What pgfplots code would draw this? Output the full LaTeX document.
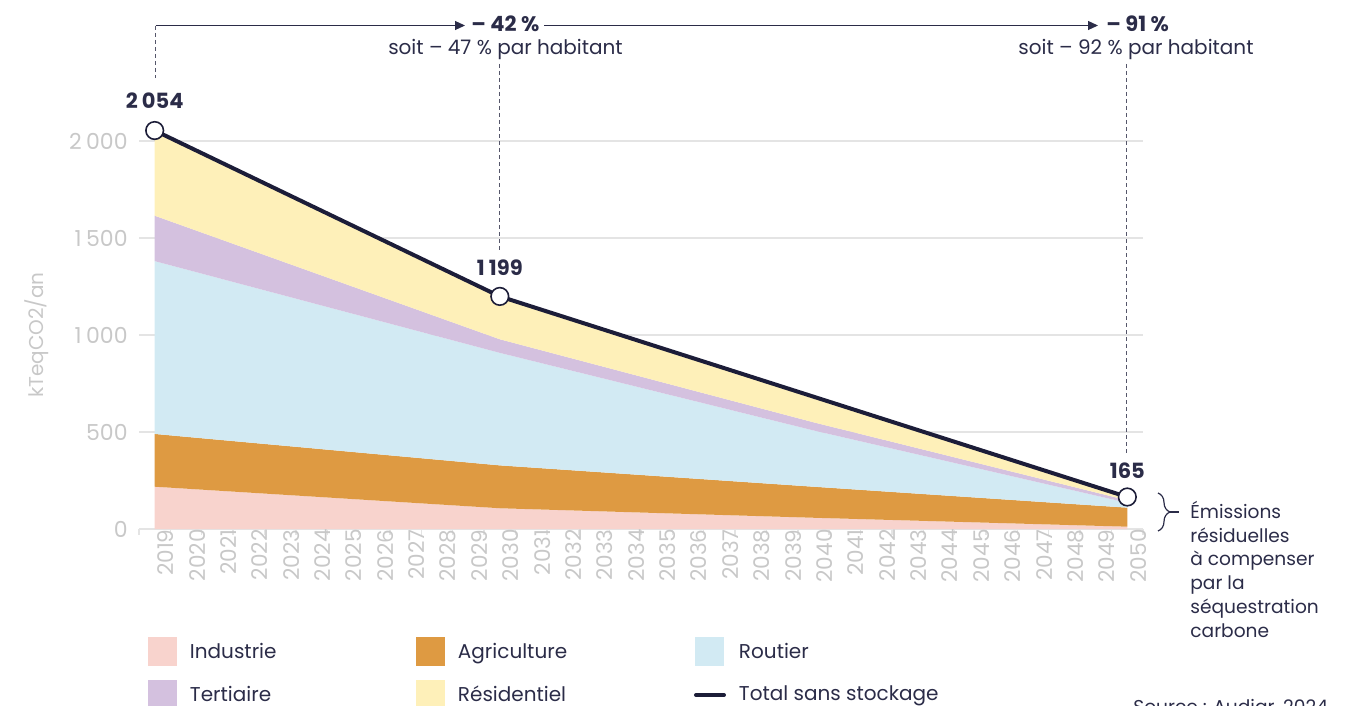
\documentclass[border=0pt]{standalone}
\usepackage{fontspec}
\setmainfont{Poppins}
\usepackage{pgfplots}
\pgfplotsset{compat=1.18}
\usepgfplotslibrary{fillbetween}
\usetikzlibrary{arrows.meta,decorations.pathreplacing}
\definecolor{cInd}{HTML}{F8D3CD}
\definecolor{cAgr}{HTML}{DE9A42}
\definecolor{cRou}{HTML}{D2EAF3}
\definecolor{cTer}{HTML}{D4C1DF}
\definecolor{cRes}{HTML}{FEF0B9}
\definecolor{cLine}{HTML}{1C1D38}
\definecolor{cText}{HTML}{2B2C48}
\definecolor{cTick}{HTML}{C8C8C8}
\definecolor{cGrid}{HTML}{E4E4E4}
\definecolor{cDash}{HTML}{55566A}
\pgfplotsset{swatch/.style={legend image code/.code={\fill[#1] (0pt,-7.25pt) rectangle (14.5pt,7.25pt);}}}
\newcommand{\ts}{\hspace{0.2em}}
\begin{document}
\begin{tikzpicture}
\begin{axis}[
  at={(69.5pt,-264.5pt)}, anchor=south west,
  scale only axis, width=502pt, height=203.7pt,
  xmin=2018.5, xmax=2050.5, ymin=0, ymax=2100,
  enlargelimits=false, clip=false,
  axis x line*=bottom, axis y line*=left,
  x axis line style={draw=cGrid, line width=0.7pt},
  y axis line style={draw=none},
  xtick={2019,...,2050},
  minor xtick={2018.5,2019.5,...,2050.5},
  tick align=outside,
  major tick length=0pt,
  minor tick length=3pt,
  minor tick style={draw=cGrid, line width=0.7pt},
  xticklabel style={rotate=90, anchor=east, inner sep=0pt, yshift=-5.5pt, font=\fontsize{10.8}{12}\selectfont, text=cTick, /pgf/number format/1000 sep=, /pgf/number format/assume math mode=true},
  ytick={0,500,1000,1500,2000},
  yticklabels={0,500,1\ts000,1\ts500,2\ts000},
  yticklabel style={anchor=east, inner sep=0pt, xshift=-5.5pt, font=\fontsize{11}{12}\selectfont, text=cTick},
  ymajorgrids, grid style={draw=cGrid, line width=0.7pt},
  ylabel={kTeqCO2/an},
  ylabel style={at={(axis description cs:-0.1016,0.476)}, anchor=center, rotate=0, font=\fontsize{10}{12}\selectfont, text=cTick},
  legend columns=3,
  legend cell align=left,
  legend style={at={(axis description cs:0.00896,-0.2663)}, anchor=north west, draw=none, fill=none, inner sep=0pt, outer sep=0pt, font=\fontsize{10}{12}\selectfont, text=cText, row sep=7pt, nodes={inner sep=0pt}, /tikz/every odd column/.append style={column sep=6.5pt}},
]
\addplot[draw=none, name path=c0, forget plot] coordinates {(2019,0) (2050,0)};
\addplot[draw=none, name path=c1, forget plot] coordinates {(2019,218) (2030,107) (2040,58) (2050,12)};
\addplot[draw=none, name path=c2, forget plot] coordinates {(2019,490) (2030,328) (2040,218) (2050,110)};
\addplot[draw=none, name path=c3, forget plot] coordinates {(2019,1381) (2030,908) (2040,508) (2050,135)};
\addplot[draw=none, name path=c4, forget plot] coordinates {(2019,1615) (2030,978) (2040,550) (2050,148)};
\addplot[draw=none, name path=c5, forget plot] coordinates {(2019,2054) (2030,1199) (2040,682) (2050,165)};
\addplot[fill=cInd, draw=none, swatch=cInd] fill between[of=c1 and c0];
\addlegendentry{\makebox[113pt][l]{Industrie}}
\addplot[fill=cAgr, draw=none, swatch=cAgr] fill between[of=c2 and c1];
\addlegendentry{\makebox[118pt][l]{Agriculture}}
\addplot[fill=cRou, draw=none, swatch=cRou] fill between[of=c3 and c2];
\addlegendentry{Routier}
\addplot[fill=cTer, draw=none, swatch=cTer] fill between[of=c4 and c3];
\addlegendentry{\makebox[113pt][l]{Tertiaire}}
\addplot[fill=cRes, draw=none, swatch=cRes] fill between[of=c5 and c4];
\addlegendentry{\makebox[118pt][l]{Résidentiel}}
\addplot[cLine, line width=2pt, line join=round, legend image code/.code={\draw[cLine, line width=2pt, line cap=round] (0.5pt,0pt) -- (14.5pt,0pt); \path[draw=none, fill=none] (0pt,-7.25pt) rectangle (14.5pt,7.25pt);}] coordinates {(2019,2054) (2030,1199) (2050,165)};
\addlegendentry{Total sans stockage}
\addplot[only marks, mark=*, mark size=4.4pt, mark options={fill=white, draw=cLine, line width=0.8pt}, forget plot] coordinates {(2019,2054) (2030,1199) (2050,165)};
\node[font=\bfseries\fontsize{10.5}{12}\selectfont, text=cText, inner sep=0pt, yshift=14.75pt] at (axis cs:2019,2054) {2\ts054};
\node[font=\bfseries\fontsize{10.5}{12}\selectfont, text=cText, inner sep=0pt, yshift=14.2pt] at (axis cs:2030,1199) {1\ts199};
\node[font=\bfseries\fontsize{10.5}{12}\selectfont, text=cText, inner sep=0pt, yshift=13pt] at (axis cs:2050,165) {165};
\end{axis}
\begin{scope}[x=0.5pt,y=-0.5pt]
\draw[cDash, line width=0.5pt, dash pattern=on 2pt off 1.5pt] (155.5,26) -- (155.5,78);
\draw[cDash, line width=0.5pt, dash pattern=on 2pt off 1.5pt] (499.5,64) -- (499.5,253);
\draw[cDash, line width=0.5pt, dash pattern=on 2pt off 1.5pt] (1126,64) -- (1126,453);
\draw[cText, line width=0.6pt, -{Triangle[length=5pt,width=4.5pt]}] (155.5,25.5) -- (465,25.5);
\draw[cText, line width=0.6pt, -{Triangle[length=5pt,width=4.5pt]}] (544,25.5) -- (1098,25.5);
\node[anchor=base west, inner sep=0pt, font=\bfseries\fontsize{10.5}{12}\selectfont, text=cText] at (471,32) {– 42 \%};
\node[anchor=base, inner sep=0pt, font=\fontsize{10}{12}\selectfont, text=cText] at (505.5,55) {soit – 47 \% par habitant};
\node[anchor=base west, inner sep=0pt, font=\bfseries\fontsize{10.5}{12}\selectfont, text=cText] at (1106,32) {– 91 \%};
\node[anchor=base, inner sep=0pt, font=\fontsize{10}{12}\selectfont, text=cText] at (1136,55) {soit – 92 \% par habitant};
\draw[cText, line width=0.6pt, decorate, decoration={brace, amplitude=6pt}] (1158,493) -- (1158,531);
\draw[cText, line width=0.6pt] (1170,512) -- (1179,512);
\foreach \t/\yy in {Émissions/518, résiduelles/542, à compenser/565, par la/589, séquestration/613, carbone/637}
  \node[anchor=base west, inner sep=0pt, font=\fontsize{9.3}{12}\selectfont, text=cText] at (1190,\yy) {\t};
\node[anchor=base west, inner sep=0pt, font=\fontsize{9.3}{12}\selectfont, text=cText] at (1133,713) {Source : Audiar, 2024};
\pgfresetboundingbox
\path[use as bounding box] (0,0) rectangle (1348,706);
\end{scope}
\end{tikzpicture}
\end{document}
